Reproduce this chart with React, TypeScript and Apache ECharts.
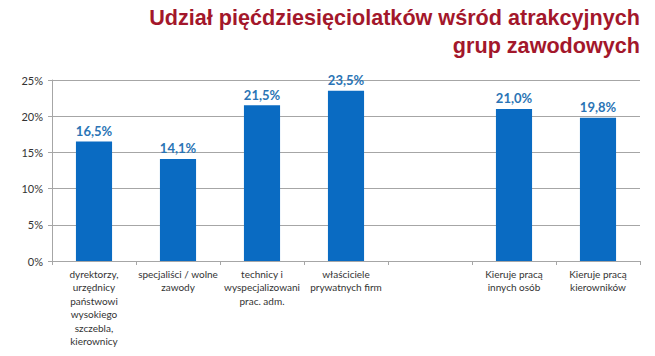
import React, { useEffect, useRef } from "react";
import * as echarts from "echarts";

const titleLines = ["Udział pięćdziesięciolatków wśród atrakcyjnych", "grup zawodowych"];
const categories = [
  "dyrektorzy,\nurzędnicy\npaństwowi\nwysokiego\nszczebla,\nkierownicy",
  "specjaliści / wolne\nzawody",
  "technicy i\nwyspecjalizowani\nprac. adm.",
  "właściciele\nprywatnych firm",
  "",
  "Kieruje pracą\ninnych osób",
  "Kieruje pracą\nkierowników",
];
const values: (number | null)[] = [16.5, 14.1, 21.5, 23.5, null, 21.0, 19.8];
const yMin = 0;
const yMax = 25;
const yInterval = 5;

export default function App() {
  const ref = useRef<HTMLDivElement>(null);
  useEffect(() => {
    if (!ref.current) return;
    const chart = echarts.init(ref.current, null, { renderer: "svg" });
    const titleStyle = {
      fill: "#A3172B",
      font: "bold 21.6px 'Liberation Sans', Arial, sans-serif",
    };
    chart.setOption({
      animation: false,
      backgroundColor: "#ffffff",
      graphic: titleLines.map((t, i) => ({
        type: "text",
        right: 15,
        top: 6 + i * 28,
        style: { text: t, ...titleStyle },
      })),
      grid: { left: 52, right: 15, top: 80, bottom: 95, containLabel: false },
      xAxis: {
        type: "category",
        data: categories,
        axisLine: { show: true, lineStyle: { color: "#A6A6A6", width: 1 } },
        axisTick: { show: true, length: 4, lineStyle: { color: "#A6A6A6" } },
        axisLabel: {
          interval: 0,
          color: "#333333",
          fontSize: 10,
          lineHeight: 13.5,
          fontFamily: "Lato, 'Open Sans', sans-serif",
          margin: 6,
        },
      },
      yAxis: {
        type: "value",
        min: yMin,
        max: yMax,
        interval: yInterval,
        axisLine: { show: true, lineStyle: { color: "#A6A6A6" } },
        axisTick: { show: true, length: 4, lineStyle: { color: "#A6A6A6" } },
        splitLine: { show: true, lineStyle: { color: "#A6A6A6", width: 1 } },
        axisLabel: {
          formatter: (v: number) => `${v}%`,
          color: "#333333",
          fontSize: 11,
          fontFamily: "Lato, 'Open Sans', sans-serif",
          margin: 9,
        },
      },
      series: [
        {
          type: "bar",
          data: values,
          barWidth: "43%",
          itemStyle: { color: "#0A6BC2" },
          label: {
            show: true,
            position: "top",
            distance: 4,
            color: "#2A74B5",
            fontSize: 13,
            fontWeight: "bold",
            fontFamily: "Lato, 'Open Sans', sans-serif",
            formatter: (p: any) => (p.value == null ? "" : p.value.toFixed(1).replace(".", ",") + "%"),
          },
        },
      ],
    });
    return () => chart.dispose();
  }, []);
  return <div ref={ref} style={{ width: 655, height: 356, position: "absolute", left: 0, top: 0 }} />;
}
